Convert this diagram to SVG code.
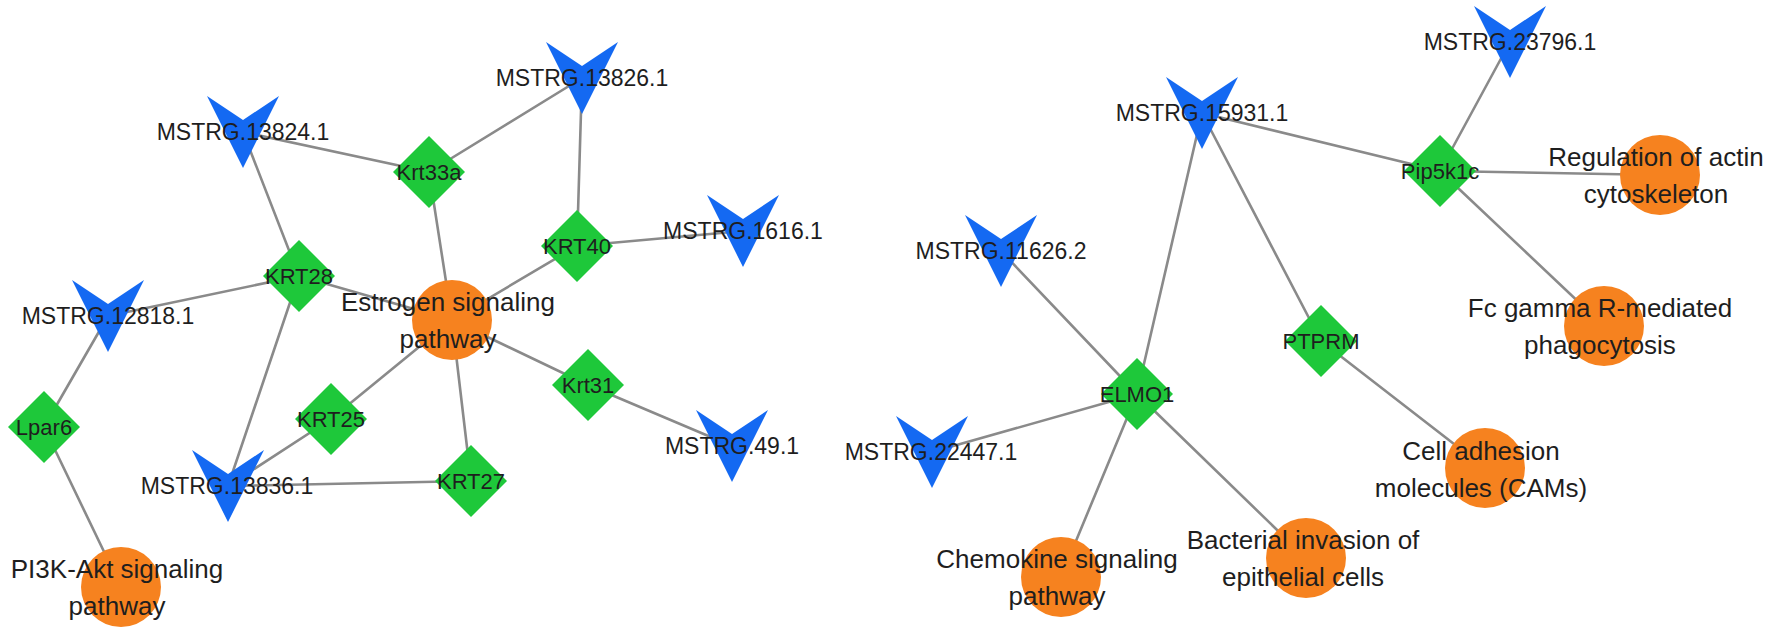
<svg xmlns="http://www.w3.org/2000/svg" xmlns:xlink="http://www.w3.org/1999/xlink" width="1772" height="637" viewBox="0 0 1772 637">
<style>
.edge{stroke:#8a8a8a;stroke-width:2.6;fill:none;stroke-linecap:round}
.vee{fill:#1469f2}
.gene{fill:#1ec83a}
.path{fill:#f6821f}
text{font-family:"Liberation Sans",Arial,sans-serif;fill:#1e1e1e;text-anchor:middle;dominant-baseline:central}
.lm{font-size:23px}
.lg{font-size:22px}
.lp{font-size:26px}
</style>
<defs>
<path id="vshape" d="M-36,-36 L0,-12 L36,-36 L0,36 Z"/>
<path id="dshape" d="M0,-36 L36,0 L0,36 L-36,0 Z"/>
</defs>
<rect width="1772" height="637" fill="#ffffff"/>
<g id="edges">
<line class="edge" x1="243" y1="132" x2="429" y2="172"/>
<line class="edge" x1="582" y1="78" x2="429" y2="172"/>
<line class="edge" x1="582" y1="78" x2="577" y2="246"/>
<line class="edge" x1="243" y1="132" x2="299" y2="276"/>
<line class="edge" x1="429" y1="172" x2="452" y2="320"/>
<line class="edge" x1="577" y1="246" x2="452" y2="320"/>
<line class="edge" x1="577" y1="246" x2="743" y2="231"/>
<line class="edge" x1="299" y1="276" x2="108" y2="316"/>
<line class="edge" x1="299" y1="276" x2="452" y2="320"/>
<line class="edge" x1="299" y1="276" x2="228" y2="486"/>
<line class="edge" x1="452" y1="320" x2="331" y2="419"/>
<line class="edge" x1="452" y1="320" x2="471" y2="481"/>
<line class="edge" x1="452" y1="320" x2="588" y2="385"/>
<line class="edge" x1="588" y1="385" x2="732" y2="446"/>
<line class="edge" x1="331" y1="419" x2="228" y2="486"/>
<line class="edge" x1="228" y1="486" x2="471" y2="481"/>
<line class="edge" x1="108" y1="316" x2="44" y2="427"/>
<line class="edge" x1="44" y1="427" x2="121" y2="587"/>
<line class="edge" x1="1510" y1="42" x2="1440" y2="171"/>
<line class="edge" x1="1202" y1="113" x2="1440" y2="171"/>
<line class="edge" x1="1440" y1="171" x2="1660" y2="175"/>
<line class="edge" x1="1440" y1="171" x2="1604" y2="326"/>
<line class="edge" x1="1202" y1="113" x2="1137" y2="394"/>
<line class="edge" x1="1202" y1="113" x2="1321" y2="341"/>
<line class="edge" x1="1001" y1="251" x2="1137" y2="394"/>
<line class="edge" x1="1321" y1="341" x2="1485" y2="468"/>
<line class="edge" x1="1137" y1="394" x2="932" y2="452"/>
<line class="edge" x1="1137" y1="394" x2="1061" y2="577"/>
<line class="edge" x1="1137" y1="394" x2="1306" y2="558"/>
</g>
<g id="node-mstrg13826"><use href="#vshape" class="vee" x="582" y="78"/><text class="lm" x="582" y="78">MSTRG.13826.1</text></g>
<g id="node-mstrg13824"><use href="#vshape" class="vee" x="243" y="132"/><text class="lm" x="243" y="132">MSTRG.13824.1</text></g>
<g id="node-krt33a"><use href="#dshape" class="gene" x="429" y="172"/><text class="lg" x="429" y="172">Krt33a</text></g>
<g id="node-krt40"><use href="#dshape" class="gene" x="577" y="246"/><text class="lg" x="577" y="246">KRT40</text></g>
<g id="node-mstrg1616"><use href="#vshape" class="vee" x="743" y="231"/><text class="lm" x="743" y="231">MSTRG.1616.1</text></g>
<g id="node-krt28"><use href="#dshape" class="gene" x="299" y="276"/><text class="lg" x="299" y="276">KRT28</text></g>
<g id="node-estrogen"><circle class="path" cx="452" cy="320" r="40"/><text class="lp" x="448" y="302">Estrogen signaling</text><text class="lp" x="448" y="339">pathway</text></g>
<g id="node-mstrg12818"><use href="#vshape" class="vee" x="108" y="316"/><text class="lm" x="108" y="316">MSTRG.12818.1</text></g>
<g id="node-krt31"><use href="#dshape" class="gene" x="588" y="385"/><text class="lg" x="588" y="385">Krt31</text></g>
<g id="node-lpar6"><use href="#dshape" class="gene" x="44" y="427"/><text class="lg" x="44" y="427">Lpar6</text></g>
<g id="node-krt25"><use href="#dshape" class="gene" x="331" y="419"/><text class="lg" x="331" y="419">KRT25</text></g>
<g id="node-mstrg13836"><use href="#vshape" class="vee" x="228" y="486"/><text class="lm" x="227" y="486">MSTRG.13836.1</text></g>
<g id="node-krt27"><use href="#dshape" class="gene" x="471" y="481"/><text class="lg" x="471" y="481">KRT27</text></g>
<g id="node-mstrg49"><use href="#vshape" class="vee" x="732" y="446"/><text class="lm" x="732" y="446">MSTRG.49.1</text></g>
<g id="node-pi3k"><circle class="path" cx="121" cy="587" r="40"/><text class="lp" x="117" y="569">PI3K-Akt signaling</text><text class="lp" x="117" y="606">pathway</text></g>
<g id="node-mstrg23796"><use href="#vshape" class="vee" x="1510" y="42"/><text class="lm" x="1510" y="42">MSTRG.23796.1</text></g>
<g id="node-mstrg15931"><use href="#vshape" class="vee" x="1202" y="113"/><text class="lm" x="1202" y="113">MSTRG.15931.1</text></g>
<g id="node-pip5k1c"><use href="#dshape" class="gene" x="1440" y="171"/><text class="lg" x="1440" y="171">Pip5k1c</text></g>
<g id="node-regulation"><circle class="path" cx="1660" cy="175" r="40"/><text class="lp" x="1656" y="157">Regulation of actin</text><text class="lp" x="1656" y="194">cytoskeleton</text></g>
<g id="node-mstrg11626"><use href="#vshape" class="vee" x="1001" y="251"/><text class="lm" x="1001" y="251">MSTRG.11626.2</text></g>
<g id="node-fcgamma"><circle class="path" cx="1604" cy="326" r="40"/><text class="lp" x="1600" y="308">Fc gamma R-mediated</text><text class="lp" x="1600" y="345">phagocytosis</text></g>
<g id="node-ptprm"><use href="#dshape" class="gene" x="1321" y="341"/><text class="lg" x="1321" y="341">PTPRM</text></g>
<g id="node-elmo1"><use href="#dshape" class="gene" x="1137" y="394"/><text class="lg" x="1137" y="394">ELMO1</text></g>
<g id="node-mstrg22447"><use href="#vshape" class="vee" x="932" y="452"/><text class="lm" x="931" y="452">MSTRG.22447.1</text></g>
<g id="node-cam"><circle class="path" cx="1485" cy="468" r="40"/><text class="lp" x="1481" y="451">Cell adhesion</text><text class="lp" x="1481" y="488">molecules (CAMs)</text></g>
<g id="node-bacterial"><circle class="path" cx="1306" cy="558" r="40"/><text class="lp" x="1303" y="540">Bacterial invasion of</text><text class="lp" x="1303" y="577">epithelial cells</text></g>
<g id="node-chemokine"><circle class="path" cx="1061" cy="577" r="40"/><text class="lp" x="1057" y="559">Chemokine signaling</text><text class="lp" x="1057" y="596">pathway</text></g>
</svg>
